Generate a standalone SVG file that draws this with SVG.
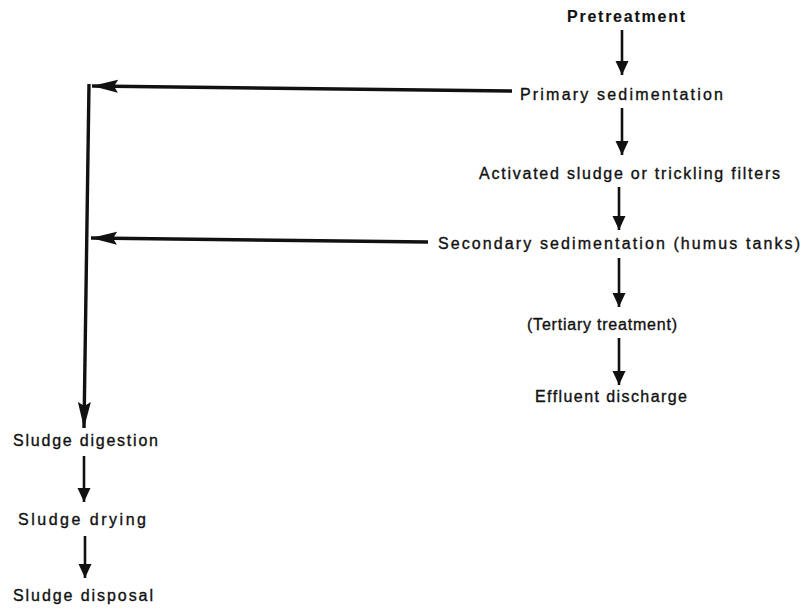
<svg xmlns="http://www.w3.org/2000/svg" width="804" height="608" viewBox="0 0 804 608">
<defs>
<style>
text{font-family:"Liberation Sans",Arial,sans-serif;font-size:16px;fill:#111;stroke:#111;stroke-width:0.35}
.b{font-weight:bold;stroke-width:0.1}
.c{fill:none;stroke:#111;stroke-linecap:butt}
.thin{stroke-width:2.6}
.thick{stroke-width:3.4}
</style>
<marker id="ah" markerUnits="userSpaceOnUse" markerWidth="14" markerHeight="16" viewBox="0 0 14 16" refX="14" refY="8" orient="auto">
<path d="M0,1.5 L14,8 L0,14.5 Z" fill="#111"/>
</marker>
<marker id="ahb" markerUnits="userSpaceOnUse" markerWidth="26" markerHeight="16" viewBox="0 0 26 16" refX="26" refY="8" orient="auto">
<path d="M0,1.5 L26,8 L0,14.5 L4,8 Z" fill="#111"/>
</marker>
</defs>
<g id="connectors">
<line class="c thin" x1="622" y1="30" x2="622" y2="75" marker-end="url(#ah)"/>
<line class="c thin" x1="622" y1="108" x2="622" y2="155" marker-end="url(#ah)"/>
<line class="c thin" x1="619" y1="187" x2="619" y2="230" marker-end="url(#ah)"/>
<line class="c thin" x1="619" y1="258" x2="619" y2="307" marker-end="url(#ah)"/>
<line class="c thin" x1="619" y1="338" x2="619" y2="385" marker-end="url(#ah)"/>
<line class="c thick" x1="512" y1="91" x2="92" y2="86" marker-end="url(#ahb)"/>
<line class="c thick" x1="428" y1="242" x2="91" y2="238" marker-end="url(#ahb)"/>
<line class="c thick" x1="89" y1="84" x2="84" y2="428" marker-end="url(#ahb)"/>
<line class="c thin" x1="84" y1="456" x2="84" y2="502" marker-end="url(#ah)"/>
<line class="c thin" x1="85" y1="536" x2="85" y2="578" marker-end="url(#ah)"/>
</g>
<g id="pretreatment"><text class="b" x="567" y="22" textLength="118" lengthAdjust="spacing">Pretreatment</text></g>
<g id="primary"><text x="520" y="100" textLength="203" lengthAdjust="spacing">Primary sedimentation</text></g>
<g id="activated"><text x="479" y="179" textLength="301" lengthAdjust="spacing">Activated sludge or trickling filters</text></g>
<g id="secondary"><text x="438" y="249" textLength="362" lengthAdjust="spacing">Secondary sedimentation (humus tanks)</text></g>
<g id="tertiary"><text x="527" y="330" textLength="150" lengthAdjust="spacing">(Tertiary treatment)</text></g>
<g id="effluent"><text x="535" y="402" textLength="152" lengthAdjust="spacing">Effluent discharge</text></g>
<g id="digestion"><text x="13" y="446" textLength="145" lengthAdjust="spacing">Sludge digestion</text></g>
<g id="drying"><text x="18" y="525" textLength="128" lengthAdjust="spacing">Sludge drying</text></g>
<g id="disposal"><text x="13" y="601" textLength="140" lengthAdjust="spacing">Sludge disposal</text></g>
</svg>
